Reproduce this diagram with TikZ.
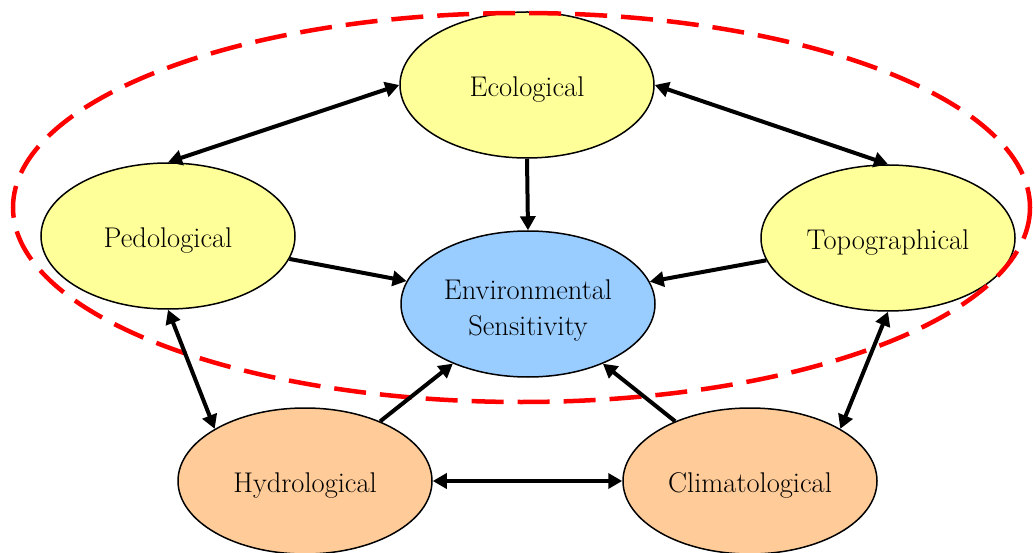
\documentclass[tikz,border=0pt]{standalone}
\usepackage{fontspec}
\usetikzlibrary{shapes.geometric,arrows.meta}
\definecolor{ylw}{HTML}{FFFF99}
\definecolor{blu}{HTML}{99CCFF}
\definecolor{org}{HTML}{FFCC99}
\newcommand{\lift}{\rule{0pt}{29pt}}
\begin{document}
\begin{tikzpicture}[x=1pt,y=-1pt,
  blob/.style={ellipse,draw=black,line width=1.5pt,minimum width=254pt,minimum height=146pt,inner sep=0pt,font=\fontsize{28.5}{36}\selectfont,align=center},
  tip/.tip={Triangle[length=14pt,width=15pt]},
  link/.style={line width=4pt,-tip},
  biLink/.style={line width=4pt,tip-tip}]
\useasboundingbox (0,0) rectangle (1033,553);
\node[blob,fill=ylw] (eco) at (527,85) {\lift Ecological};
\node[blob,fill=ylw] (ped) at (168,236) {\lift Pedological};
\node[blob,fill=ylw] (topo) at (888,238) {\lift Topographical};
\node[blob,fill=blu] (env) at (528,304) {\rule{0pt}{33pt}Environmental\\Sensitivity};
\node[blob,fill=org] (hydro) at (305,481) {\lift Hydrological};
\node[blob,fill=org] (clim) at (750,481) {\lift Climatological};
\draw[red,line width=4.5pt,dash pattern=on 32pt off 14pt] (521.5,207.5) ellipse [x radius=508.5,y radius=194.5];
\draw[biLink] (eco.west) -- (ped.north);
\draw[biLink] (eco.east) -- (topo.north);
\draw[link] (eco.south) -- (env.north);
\draw[link] (ped) -- (env);
\draw[link] (topo) -- (env);
\draw[biLink] (ped.south) -- (hydro.150);
\draw[biLink] (topo.south) -- (clim.30);
\draw[link] (hydro) -- (env);
\draw[link] (clim) -- (env);
\draw[biLink] (hydro.east) -- (clim.west);
\end{tikzpicture}
\end{document}
